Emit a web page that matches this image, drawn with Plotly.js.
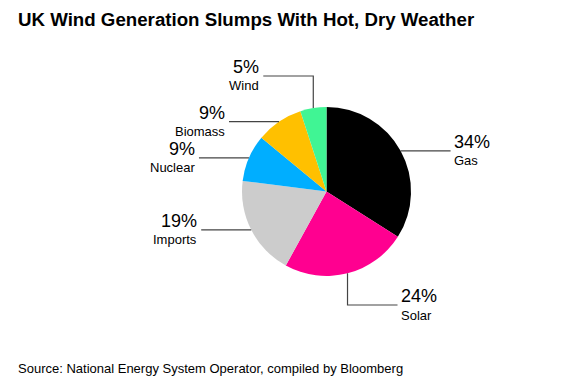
<!DOCTYPE html>
<html>
<head>
<meta charset="utf-8">
<script src="https://cdn.plot.ly/plotly-3.0.1.min.js"></script>
<style>
html,body{margin:0;padding:0;background:#fff;}
#chart{width:564px;height:382px;}
</style>
</head>
<body>
<div id="chart"></div>
<script>
// Data
const categories = ["Gas", "Solar", "Imports", "Nuclear", "Biomass", "Wind"];
const shares = [34, 24, 19, 9, 9, 5];
const pctLabels = ["34%", "24%", "19%", "9%", "9%", "5%"];
const colors = ["#000000", "#ff0090", "#cccccc", "#00aeff", "#ffc000", "#40f594"];

// Layout geometry (pixels)
const W = 564, H = 382;
const cx = 326.5, cy = 191.5, R = 84.5;
const LINE = 50;
// leader style per slice: 'h' horizontal, 'vh' vertical then horizontal
const leaderMode = ["h", "vh", "h", "h", "h", "vh"];
const vertEnd = {1: 305, 5: 76};

const px = x => x / W;
const py = y => 1 - y / H;

const total = shares.reduce((a, b) => a + b, 0);
const shapes = [];
const annotations = [];
let cum = 0;
shares.forEach((v, i) => {
  const mid = (cum + v / 2) / total * 2 * Math.PI;
  cum += v;
  const ex = cx + R * Math.sin(mid);
  const ey = cy - R * Math.cos(mid);
  const right = Math.sin(mid) > 0;
  let sx = ex, sy = ey;
  let path;
  if (leaderMode[i] === "vh") {
    sy = vertEnd[i];
    const hx = right ? sx + LINE : sx - LINE;
    path = `M${px(ex)},${py(ey)} L${px(sx)},${py(sy)} L${px(hx)},${py(sy)}`;
    sx = hx;
  } else {
    const hx = right ? ex + LINE : ex - LINE;
    path = `M${px(ex)},${py(ey)} L${px(hx)},${py(ey)}`;
    sx = hx;
  }
  shapes.push({type: "path", xref: "paper", yref: "paper", path: path,
    line: {color: "#444444", width: 1.2}});
  const tx = right ? sx + 1 : sx - 2;
  annotations.push({xref: "paper", yref: "paper", x: px(tx), y: py(sy - 9),
    xanchor: right ? "left" : "right", yanchor: "middle", showarrow: false,
    text: pctLabels[i], font: {family: "Liberation Sans, Arial, sans-serif", size: 18, color: "#000"}});
  annotations.push({xref: "paper", yref: "paper", x: px(tx), y: py(sy + 10),
    xanchor: right ? "left" : "right", yanchor: "middle", showarrow: false,
    text: categories[i], font: {family: "Liberation Sans, Arial, sans-serif", size: 13, color: "#000"}});
});

annotations.push({xref: "paper", yref: "paper", x: px(16), y: py(20), xanchor: "left", yanchor: "middle",
  showarrow: false, text: "<b>UK Wind Generation Slumps With Hot, Dry Weather</b>",
  font: {family: "Liberation Sans, Arial, sans-serif", size: 18.7, color: "#000"}});
annotations.push({xref: "paper", yref: "paper", x: px(16), y: py(368), xanchor: "left", yanchor: "middle",
  showarrow: false, text: "Source: National Energy System Operator, compiled by Bloomberg",
  font: {family: "Liberation Sans, Arial, sans-serif", size: 13, color: "#000"}});

const trace = {
  type: "pie",
  labels: categories,
  values: shares,
  sort: false,
  direction: "clockwise",
  rotation: 0,
  textinfo: "none",
  hoverinfo: "label+percent",
  marker: {colors: colors, line: {width: 0}},
  domain: {x: [px(cx - R), px(cx + R)], y: [py(cy + R), py(cy - R)]},
  showlegend: false
};

Plotly.newPlot("chart", [trace], {
  width: W, height: H,
  margin: {l: 0, r: 0, t: 0, b: 0},
  paper_bgcolor: "#fff",
  showlegend: false,
  shapes: shapes,
  annotations: annotations
}, {displayModeBar: false, staticPlot: true});
</script>
</body>
</html>
